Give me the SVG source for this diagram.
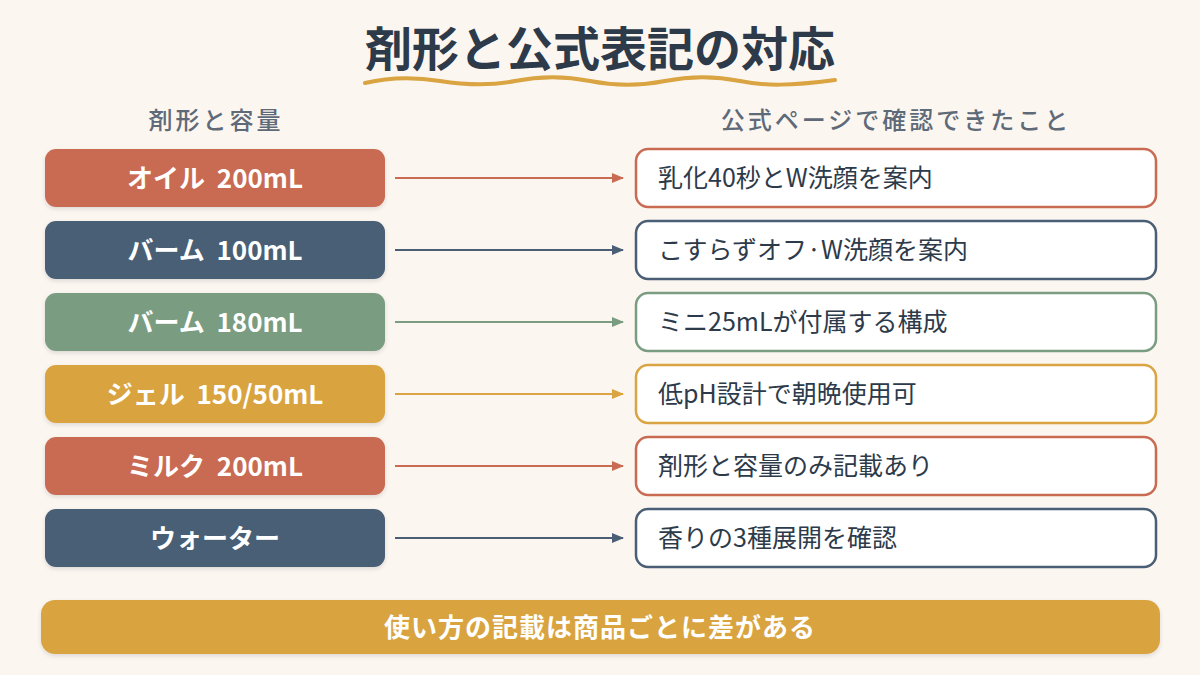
<svg xmlns="http://www.w3.org/2000/svg" width="1200" height="675" viewBox="0 0 1200 675">
<defs>
<style>
.t{font-family:"Noto Sans CJK JP","Noto Sans",sans-serif}
.title{font-size:47px;font-weight:700;fill:#2D3A4A}
.hdr{font-size:24px;font-weight:500;fill:#5E6A78;letter-spacing:3px}
.lt{font-size:26px;font-weight:700;fill:#FFFFFF;white-space:pre}
.rt{font-size:25px;font-weight:400;fill:#2D3A4A}
.ft{font-size:26px;font-weight:700;fill:#FFFFFF;letter-spacing:1px}
.rb{fill:#FFFFFF;stroke-width:2.5}
.ln{stroke-width:2;fill:none}
</style>
<filter id="sh" x="-10%" y="-20%" width="120%" height="150%">
<feDropShadow dx="0" dy="2" stdDeviation="2" flood-color="#000" flood-opacity="0.12"/>
</filter>
<marker id="a1" viewBox="0 0 12 10" refX="11" refY="5" markerWidth="12" markerHeight="10" markerUnits="userSpaceOnUse" orient="auto"><path d="M0,0 L12,5 L0,10 Z" fill="#C96B52"/></marker>
<marker id="a2" viewBox="0 0 12 10" refX="11" refY="5" markerWidth="12" markerHeight="10" markerUnits="userSpaceOnUse" orient="auto"><path d="M0,0 L12,5 L0,10 Z" fill="#4A5E75"/></marker>
<marker id="a3" viewBox="0 0 12 10" refX="11" refY="5" markerWidth="12" markerHeight="10" markerUnits="userSpaceOnUse" orient="auto"><path d="M0,0 L12,5 L0,10 Z" fill="#7A9C80"/></marker>
<marker id="a4" viewBox="0 0 12 10" refX="11" refY="5" markerWidth="12" markerHeight="10" markerUnits="userSpaceOnUse" orient="auto"><path d="M0,0 L12,5 L0,10 Z" fill="#D9A441"/></marker>
</defs>
<rect x="0" y="0" width="1200" height="675" fill="#FCF6F1"/>
<g id="title">
<text class="t title" x="600" y="66" text-anchor="middle">剤形と公式表記の対応</text>
<path d="M365,83 C390,77 415,77 440,81 S490,86 515,81 S565,76 590,81 S640,86 665,81 S715,76 740,81 S790,86 835,80" stroke="#D9A441" stroke-width="4" fill="none" stroke-linecap="round"/>
</g>
<g id="headers">
<text class="t hdr" x="216" y="129" text-anchor="middle">剤形と容量</text>
<text class="t hdr" x="896" y="129" text-anchor="middle">公式ページで確認できたこと</text>
</g>
<g id="connectors">
<line class="ln" x1="395" y1="178" x2="623" y2="178" stroke="#C96B52" marker-end="url(#a1)"/>
<line class="ln" x1="395" y1="250" x2="623" y2="250" stroke="#4A5E75" marker-end="url(#a2)"/>
<line class="ln" x1="395" y1="322" x2="623" y2="322" stroke="#7A9C80" marker-end="url(#a3)"/>
<line class="ln" x1="395" y1="394" x2="623" y2="394" stroke="#D9A441" marker-end="url(#a4)"/>
<line class="ln" x1="395" y1="466" x2="623" y2="466" stroke="#C96B52" marker-end="url(#a1)"/>
<line class="ln" x1="395" y1="538" x2="623" y2="538" stroke="#4A5E75" marker-end="url(#a2)"/>
</g>
<g id="l1"><rect x="45" y="149" width="340" height="58" rx="11" fill="#C96B52" filter="url(#sh)"/><text class="t lt" x="215" y="188" text-anchor="middle">オイル  200mL</text></g>
<g id="l2"><rect x="45" y="221" width="340" height="58" rx="11" fill="#4A5E75" filter="url(#sh)"/><text class="t lt" x="215" y="260" text-anchor="middle">バーム  100mL</text></g>
<g id="l3"><rect x="45" y="293" width="340" height="58" rx="11" fill="#7A9C80" filter="url(#sh)"/><text class="t lt" x="215" y="332" text-anchor="middle">バーム  180mL</text></g>
<g id="l4"><rect x="45" y="365" width="340" height="58" rx="11" fill="#D9A441" filter="url(#sh)"/><text class="t lt" x="215" y="404" text-anchor="middle">ジェル  150/50mL</text></g>
<g id="l5"><rect x="45" y="437" width="340" height="58" rx="11" fill="#C96B52" filter="url(#sh)"/><text class="t lt" x="215" y="476" text-anchor="middle">ミルク  200mL</text></g>
<g id="l6"><rect x="45" y="509" width="340" height="58" rx="11" fill="#4A5E75" filter="url(#sh)"/><text class="t lt" x="215" y="548" text-anchor="middle">ウォーター</text></g>
<g id="r1"><rect class="rb" x="636" y="149" width="520" height="58" rx="12" stroke="#C96B52"/><text class="t rt" x="658" y="187">乳化40秒とW洗顔を案内</text></g>
<g id="r2"><rect class="rb" x="636" y="221" width="520" height="58" rx="12" stroke="#4A5E75"/><text class="t rt" x="658" y="259">こすらずオフ·W洗顔を案内</text></g>
<g id="r3"><rect class="rb" x="636" y="293" width="520" height="58" rx="12" stroke="#7A9C80"/><text class="t rt" x="658" y="331">ミニ25mLが付属する構成</text></g>
<g id="r4"><rect class="rb" x="636" y="365" width="520" height="58" rx="12" stroke="#D9A441"/><text class="t rt" x="658" y="403">低pH設計で朝晩使用可</text></g>
<g id="r5"><rect class="rb" x="636" y="437" width="520" height="58" rx="12" stroke="#C96B52"/><text class="t rt" x="658" y="475">剤形と容量のみ記載あり</text></g>
<g id="r6"><rect class="rb" x="636" y="509" width="520" height="58" rx="12" stroke="#4A5E75"/><text class="t rt" x="658" y="547">香りの3種展開を確認</text></g>
<g id="footer"><rect x="41" y="600" width="1119" height="54" rx="14" fill="#D9A441" filter="url(#sh)"/><text class="t ft" x="600" y="637" text-anchor="middle">使い方の記載は商品ごとに差がある</text></g>
</svg>
